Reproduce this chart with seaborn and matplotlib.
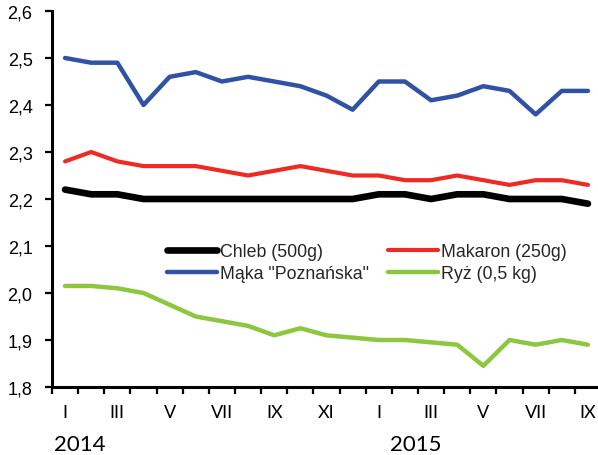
import matplotlib
matplotlib.use("Agg")
import matplotlib.pyplot as plt
from matplotlib.transforms import blended_transform_factory
import seaborn as sns
import pandas as pd

# Monthly average prices, January 2014 - September 2015
months = ["I", "II", "III", "IV", "V", "VI", "VII", "VIII", "IX", "X", "XI", "XII",
          "I", "II", "III", "IV", "V", "VI", "VII", "VIII", "IX"]
years = ["2014", "2015"]

chleb = [2.22, 2.21, 2.21, 2.20, 2.20, 2.20, 2.20, 2.20, 2.20, 2.20, 2.20, 2.20,
         2.21, 2.21, 2.20, 2.21, 2.21, 2.20, 2.20, 2.20, 2.19]
makaron = [2.28, 2.30, 2.28, 2.27, 2.27, 2.27, 2.26, 2.25, 2.26, 2.27, 2.26, 2.25,
           2.25, 2.24, 2.24, 2.25, 2.24, 2.23, 2.24, 2.24, 2.23]
maka = [2.50, 2.49, 2.49, 2.40, 2.46, 2.47, 2.45, 2.46, 2.45, 2.44, 2.42, 2.39,
        2.45, 2.45, 2.41, 2.42, 2.44, 2.43, 2.38, 2.43, 2.43]
ryz = [2.015, 2.015, 2.01, 2.00, 1.975, 1.95, 1.94, 1.93, 1.91, 1.925, 1.91, 1.905,
       1.90, 1.90, 1.895, 1.89, 1.845, 1.90, 1.89, 1.90, 1.89]

series_names = ["Chleb (500g)", 'Mąka "Poznańska"', "Makaron (250g)", "Ryż (0,5 kg)"]
series_values = [chleb, maka, makaron, ryz]
colors = ["#000000", "#2F52A4", "#EE2A24", "#8DC63F"]
widths = [4.8, 3.2, 3.0, 3.2]

sns.set_theme(style="white")
plt.rcParams["font.family"] = ["Liberation Sans", "DejaVu Sans"]

fig = plt.figure(figsize=(5.98, 4.56), dpi=100)
ax = fig.add_axes([52 / 598, 68 / 456, 549 / 598, 376 / 456])

idx = list(range(len(months)))
for name, vals, col, lw in zip(series_names, series_values, colors, widths):
    df = pd.DataFrame({"m": idx, "v": vals})
    sns.lineplot(data=df, x="m", y="v", ax=ax, color=col, linewidth=lw,
                 label=name, solid_capstyle="round", solid_joinstyle="round")

ax.set_xlim(-0.5, len(months) - 0.5)
ax.set_ylim(1.8, 2.6)
ax.set_xlabel("")
ax.set_ylabel("")

# y axis: comma decimal labels
yt = [1.8, 1.9, 2.0, 2.1, 2.2, 2.3, 2.4, 2.5, 2.6]
ax.set_yticks(yt)
ax.set_yticklabels([f"{v:.1f}".replace(".", ",") for v in yt], fontsize=13)

# x axis: tick marks between months, labels on every second month
ax.set_xticks([i - 0.5 for i in idx])
ax.set_xticklabels([])
ax.set_xticks(idx[::2], minor=True)
ax.set_xticklabels(months[::2], minor=True, fontsize=13,
                   family=["Lato", "DejaVu Sans"])
ax.tick_params(axis="x", which="minor", length=0, pad=12, labelcolor="black")
ax.tick_params(axis="x", which="major", length=5, width=1.6, direction="out",
               bottom=True, color="black")
ax.tick_params(axis="y", length=5, width=1.6, direction="out", left=True,
               pad=9, color="black", labelcolor="black")

for s in ["top", "right"]:
    ax.spines[s].set_visible(False)
for s in ["left", "bottom"]:
    ax.spines[s].set_color("black")
    ax.spines[s].set_linewidth(2.2)

# year labels under the month axis
trans = blended_transform_factory(ax.transData, ax.transAxes)
ax.text(0.55, -0.152, years[0], transform=trans, ha="center", va="center",
        fontsize=16, family=["Lato", "DejaVu Sans"], color="black")
ax.text(13.4, -0.152, years[1], transform=trans, ha="center", va="center",
        fontsize=16, family=["Lato", "DejaVu Sans"], color="black")

ax.legend(ncol=2, frameon=False, loc="upper left",
          bbox_to_anchor=(167 / 598, 1 - 244 / 456), bbox_transform=fig.transFigure,
          borderaxespad=0, borderpad=0, fontsize=12.8, handlelength=2.8,
          handletextpad=0.2, columnspacing=1.05, labelspacing=0.3)

fig.savefig("out.png", dpi=100)
